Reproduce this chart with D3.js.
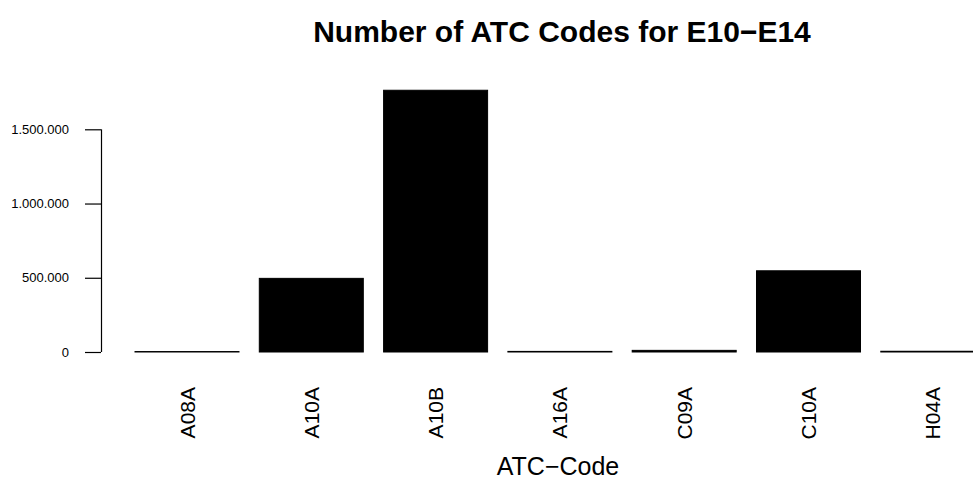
<!DOCTYPE html>
<html>
<head>
<meta charset="utf-8">
<script src="https://cdn.jsdelivr.net/npm/d3@7"></script>
<style>
  html, body { margin: 0; padding: 0; background: #fff; }
  svg { display: block; font-family: "Liberation Sans", Arial, Helvetica, sans-serif; }
</style>
</head>
<body>
<svg id="chart" width="973" height="479"></svg>
<script>
const categories = ["A08A", "A10A", "A10B", "A16A", "C09A", "C10A", "H04A"];
const counts = [3000, 496000, 1763000, 4000, 11000, 547000, 5000];
const yTicks = [0, 500000, 1000000, 1500000];
const titleText = "Number of ATC Codes for E10\u2212E14";
const xLabelText = "ATC\u2212Code";

const svg = d3.select("#chart");

const x = d3.scaleBand()
  .domain(categories)
  .range([135, 984.8])
  .paddingInner(0.1633)
  .paddingOuter(0);

const y = d3.scaleLinear()
  .domain([0, 1500000])
  .range([352, 129.3]);

const loc = d3.formatLocale({ decimal: ",", thousands: ".", grouping: [3], currency: ["", ""] });
const fmt = loc.format(",d");

// bars
svg.append("g").selectAll("rect")
  .data(categories.map((c, i) => ({ c, v: counts[i] })))
  .join("rect")
  .attr("x", d => x(d.c))
  .attr("width", x.bandwidth())
  .attr("y", d => y(d.v))
  .attr("height", d => y(0) - y(d.v))
  .attr("fill", "#000")
  .attr("stroke", "#000")
  .attr("stroke-width", 1);

// y axis
const yAxis = d3.axisLeft(y).tickValues(yTicks).tickFormat(fmt).tickSize(16).tickPadding(16).tickSizeOuter(0);
const gy = svg.append("g").attr("transform", "translate(101,0)").call(yAxis);
gy.select(".domain").attr("d", `M0.5,${y(1500000)}V${y(0)}`).attr("stroke", "#000").attr("stroke-width", 1.2);
gy.selectAll(".tick line").attr("stroke", "#000").attr("stroke-width", 1.2);
gy.selectAll(".tick text").attr("font-size", 13).attr("fill", "#000")
  .attr("font-family", "'Liberation Sans', Arial, sans-serif");

// x labels (rotated)
svg.append("g").selectAll("text")
  .data(categories)
  .join("text")
  .attr("transform", d => `translate(${x(d) + x.bandwidth() / 2},387) rotate(-90)`)
  .attr("text-anchor", "end")
  .attr("dy", "0.36em")
  .attr("font-size", 21)
  .attr("fill", "#000")
  .text(d => d);

// x axis title
svg.append("text")
  .attr("x", 558).attr("y", 475)
  .attr("text-anchor", "middle")
  .attr("font-size", 25)
  .attr("fill", "#000")
  .text(xLabelText);

// title
svg.append("text")
  .attr("x", 562).attr("y", 41.5)
  .attr("text-anchor", "middle")
  .attr("font-size", 30)
  .attr("font-weight", "bold")
  .attr("fill", "#000")
  .text(titleText);
</script>
</body>
</html>
